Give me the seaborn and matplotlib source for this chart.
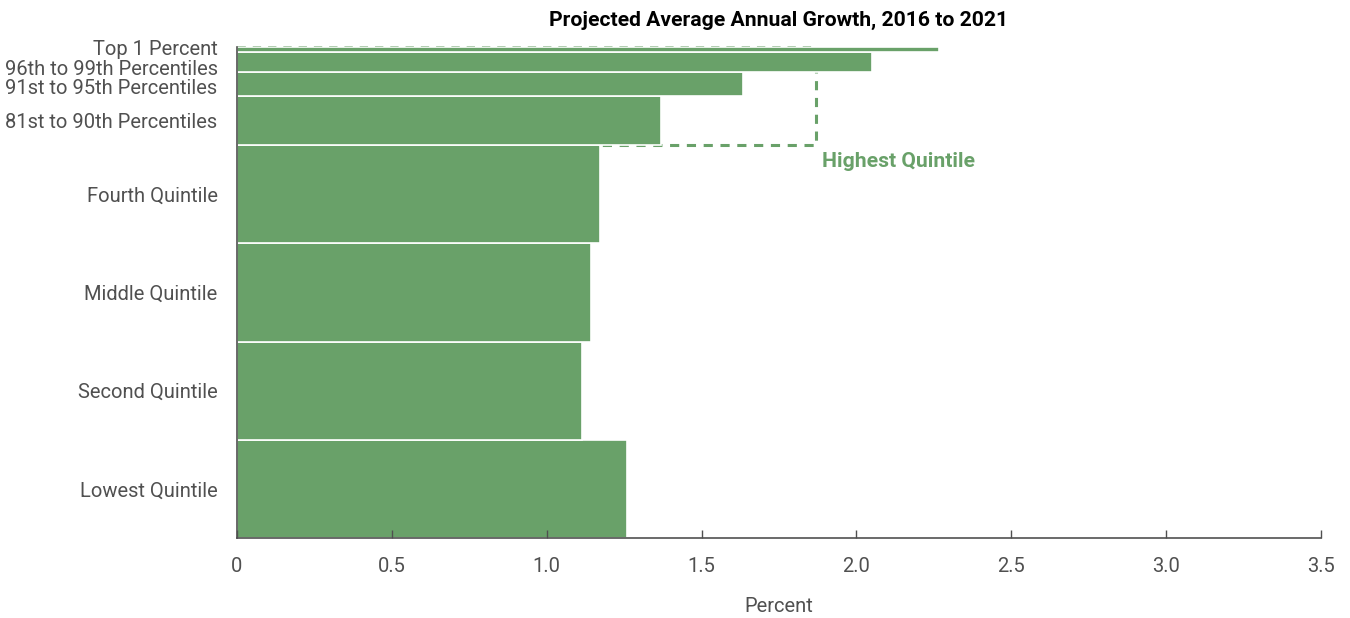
import matplotlib
matplotlib.use("Agg")
import matplotlib.pyplot as plt
import seaborn as sns
import numpy as np
import pandas as pd

# Data (bottom to top)
groups = ["Lowest Quintile", "Second Quintile", "Middle Quintile", "Fourth Quintile",
          "81st to 90th Percentiles", "91st to 95th Percentiles",
          "96th to 99th Percentiles", "Top 1 Percent"]
pop_share = [20, 20, 20, 20, 10, 5, 4, 1]
growth = [1.26, 1.115, 1.143, 1.172, 1.37, 1.635, 2.05, 2.265]
highest_quintile = 1.87
xticks = [0, 0.5, 1.0, 1.5, 2.0, 2.5, 3.0, 3.5]
xticklabels = ["0", "0.5", "1.0", "1.5", "2.0", "2.5", "3.0", "3.5"]

sns.set_theme(style="white")
plt.rcParams["font.family"] = ["Roboto", "DejaVu Sans"]

GREEN = "#69a169"
GRAY = "#505050"

df = pd.DataFrame({"group": groups, "share": pop_share, "growth": growth})
df["bottom"] = df["share"].cumsum() - df["share"]
df["center"] = df["bottom"] + df["share"] / 2

fig = plt.figure(figsize=(13.5, 6.18), dpi=100)
ax = fig.add_axes([237/1350, 1 - 538/618, (1321-237)/1350, (538-47)/618])
ax.set_axisbelow(False)

ax.barh(df["center"], df["growth"], height=df["share"], color=GREEN,
        edgecolor="white", linewidth=1.2, zorder=2)

# Highest quintile bracket (dashed rectangle behind bars)
hq_bottom = df["bottom"].iloc[4]
hq_top = 100
ax.plot([0, highest_quintile], [hq_top, hq_top],
        linestyle=(0, (3, 2.5)), color="#a9c9a9", linewidth=2.0, zorder=1.5,
        clip_on=False)
ax.plot([highest_quintile, highest_quintile, 0],
        [hq_top, hq_bottom, hq_bottom],
        linestyle=(0, (3, 2.5)), color=GREEN, linewidth=2.2, zorder=1.5,
        clip_on=False)
ax.text(highest_quintile + 0.02, hq_bottom - 3.3, "Highest Quintile",
        color=GREEN, fontsize=15.2, fontweight="bold", ha="left", va="center")

ax.set_xlim(0, 3.5)
ax.set_ylim(0, 100)
ax.set_xticks(xticks)
ax.set_xticklabels(xticklabels, fontsize=14.5, color=GRAY)
label_pos = [10, 30, 50, 70, 85, 91.9, 95.8, 99.8]
ax.set_yticks(label_pos)
ax.set_yticklabels(groups, fontsize=14.5, color=GRAY)
ax.tick_params(axis="y", left=False, length=0, pad=14)
ax.tick_params(axis="x", bottom=True, direction="in", length=6, width=1,
               color=GRAY, pad=14)
ax.set_xlabel("Percent", fontsize=14.5, color=GRAY, labelpad=15)
ax.set_ylabel("")
sns.despine(ax=ax, top=True, right=True)
for s in ["left", "bottom"]:
    ax.spines[s].set_color(GRAY)
    ax.spines[s].set_linewidth(1.2)
    ax.spines[s].set_zorder(5)

fig.text((237 + 1321) / 2 / 1350, 1 - 20/618, "Projected Average Annual Growth, 2016 to 2021",
         ha="center", va="center", fontsize=15.2, fontweight="bold", color="black")

fig.savefig("out.png", dpi=100)
